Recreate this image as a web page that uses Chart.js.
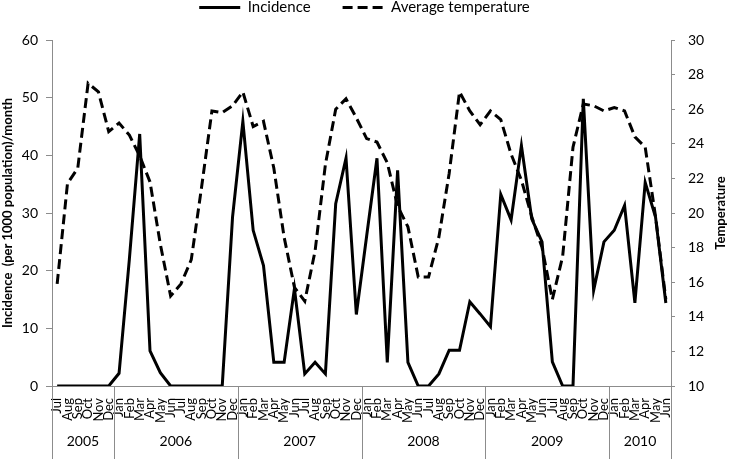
<!DOCTYPE html>
<html><head><meta charset="utf-8">
<script src="https://cdn.jsdelivr.net/npm/chart.js@4.4.0/dist/chart.umd.min.js"></script>
<style>html,body{margin:0;padding:0;background:#fff}</style>
</head><body>
<canvas id="c" width="729" height="461"></canvas>
<script>
const months = ['Jul','Aug','Sep','Oct','Nov','Dec',
  'Jan','Feb','Mar','Apr','May','Jun','Jul','Aug','Sep','Oct','Nov','Dec',
  'Jan','Feb','Mar','Apr','May','Jun','Jul','Aug','Sep','Oct','Nov','Dec',
  'Jan','Feb','Mar','Apr','May','Jun','Jul','Aug','Sep','Oct','Nov','Dec',
  'Jan','Feb','Mar','Apr','May','Jun','Jul','Aug','Sep','Oct','Nov','Dec',
  'Jan','Feb','Mar','Apr','May','Jun'];
const years = ['2005','2006','2007','2008','2009','2010'];
const monthsPerYear = [6,12,12,12,12,6];
const incidence = [
  0, 0, 0, 0, 0, 0,
  2.2, 22, 43.7, 6.1, 2.3, 0, 0, 0, 0, 0, 0, 29.3,
  45.9, 27, 20.9, 4.1, 4.1, 16.9, 2.1, 4.1, 2.1, 31.6, 39.5, 12.4,
  26, 39.5, 4.1, 37.4, 4.1, 0, 0, 2.1, 6.2, 6.2, 14.6, 12.5,
  10.3, 33.2, 28.8, 41.7, 29, 25, 4.2, 0, 0, 49.8, 16.6, 25,
  27, 31.3, 14.4, 35.3, 29.3, 14.4];
const temperature = [
  15.9, 21.7, 22.6, 27.5, 27.0, 24.7,
  25.2, 24.5, 23.3, 21.8, 18.2, 15.2, 15.9, 17.3, 21.5, 25.9, 25.8, 26.2,
  27.0, 25.0, 25.3, 22.6, 18.6, 15.7, 14.9, 17.8, 22.8, 26.0, 26.6, 25.5,
  24.3, 24.1, 22.9, 20.4, 19.2, 16.3, 16.3, 18.6, 22.3, 27.0, 25.9, 25.1,
  25.9, 25.4, 23.4, 21.9, 19.8, 18.0, 15.0, 17.5, 23.8, 26.3, 26.2, 25.9,
  26.1, 25.9, 24.4, 23.8, 19.8, 15.0];
const seriesNames = ['Incidence', 'Average temperature'];
const leftTitle = 'Incidence  (per 1000 population)/month';
const rightTitle = 'Temperature';

const FONT = 'Lato, "Liberation Sans", sans-serif';
const AXIS = '#8c8c8c';

const yearPlugin = {
  id: 'yearGroups',
  afterDraw(chart) {
    const xs = chart.scales.x, ctx = chart.ctx, ca = chart.chartArea;
    const half = (xs.getPixelForValue(1) - xs.getPixelForValue(0)) / 2;
    const edge = i => i < months.length ? xs.getPixelForValue(i) - half : xs.getPixelForValue(months.length - 1) + half;
    ctx.save();
    ctx.strokeStyle = AXIS; ctx.lineWidth = 1;
    ctx.fillStyle = '#000';
    ctx.font = '14px ' + FONT;
    ctx.textAlign = 'center'; ctx.textBaseline = 'middle';
    let idx = 0;
    const drawSep = x => { const px = Math.round(x) + 0.5; ctx.beginPath(); ctx.moveTo(px, xs.top); ctx.lineTo(px, chart.height - 2); ctx.stroke(); };
    years.forEach((yr, k) => {
      const s = idx, e = idx + monthsPerYear[k];
      drawSep(edge(s));
      ctx.fillText(yr, (edge(s) + edge(e)) / 2, 441);
      idx = e;
    });
    drawSep(edge(idx));
    // right axis title (reads bottom to top)
    ctx.font = 'bold 13px ' + FONT;
    ctx.translate(721, (ca.top + ca.bottom) / 2);
    ctx.rotate(-Math.PI / 2);
    ctx.fillText(rightTitle, 0, 0);
    ctx.restore();
  }
};

new Chart(document.getElementById('c'), {
  type: 'line',
  data: {
    labels: months,
    datasets: [
      { label: seriesNames[0], data: incidence, yAxisID: 'y', borderColor: '#000', borderWidth: 3,
        pointRadius: 0, tension: 0, fill: false, borderJoinStyle: 'miter' },
      { label: seriesNames[1], data: temperature, yAxisID: 'y1', borderColor: '#000', borderWidth: 3,
        borderDash: [10, 5], pointRadius: 0, tension: 0, fill: false }
    ]
  },
  options: {
    responsive: false,
    animation: false,
    layout: { padding: { top: -32, left: 0, right: 0, bottom: 0 } },
    plugins: {
      legend: {
        position: 'top', weight: 3000,
        labels: { usePointStyle: true, pointStyle: 'line', pointStyleWidth: 41, padding: 32,
          color: '#000', font: { family: FONT, size: 15 },
          generateLabels(chart) {
            const items = Chart.defaults.plugins.legend.labels.generateLabels(chart);
            items.forEach((it, i) => {
              const ds = chart.data.datasets[it.datasetIndex];
              it.lineDash = ds.borderDash || [];
              it.lineWidth = ds.borderWidth;
              it.strokeStyle = ds.borderColor;
            });
            return items;
          } }
      },
      title: { display: true, text: '', padding: { top: 0, bottom: 3 }, font: { size: 10 } },
      tooltip: { enabled: false }
    },
    scales: {
      x: {
        type: 'category', offset: true,
        grid: { display: false },
        border: { color: AXIS },
        ticks: { autoSkip: false, minRotation: 90, maxRotation: 90, padding: 4, color: '#000',
          font: { family: FONT, size: 13 } },
        afterFit(s) { s.height = 75; }
      },
      y: {
        position: 'left', min: 0, max: 60,
        ticks: { stepSize: 10, padding: 8, color: '#000', font: { family: FONT, size: 14 } },
        grid: { drawOnChartArea: false, tickLength: 6, color: AXIS },
        border: { color: AXIS },
        title: { display: true, text: leftTitle, color: '#000', padding: 0,
          font: { family: FONT, size: 13, weight: 'bold' } },
        afterFit(s) { s.width = 52; }
      },
      y1: {
        position: 'right', min: 10, max: 30,
        ticks: { stepSize: 2, padding: 13, color: '#000', font: { family: FONT, size: 14 } },
        grid: { drawOnChartArea: false, tickLength: 4, color: AXIS },
        border: { color: AXIS },
        afterFit(s) { s.width = 58; }
      }
    }
  },
  plugins: [yearPlugin]
});
</script>
</body></html>
